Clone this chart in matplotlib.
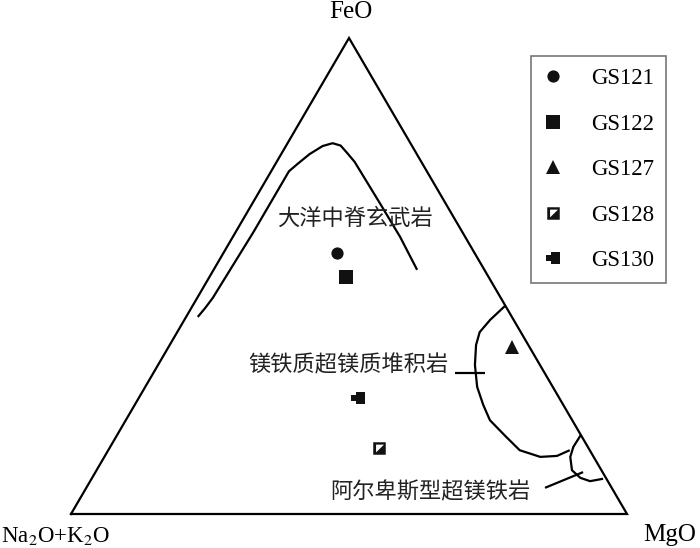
import numpy as np
import matplotlib
matplotlib.use('Agg')
import matplotlib.pyplot as plt
from matplotlib.path import Path
from matplotlib.lines import Line2D

plt.rcParams['font.family'] = ['Liberation Serif', 'DejaVu Serif']
plt.rcParams['mathtext.fontset'] = 'stix'

CJK = ['Noto Sans CJK SC', 'DejaVu Sans']

# sample compositions (wt% normalised): FeO, MgO, Na2O+K2O
SAMPLES = ['GS121', 'GS122', 'GS127', 'GS128', 'GS130']
FEO = [54.8, 49.8, 35.1, 13.9, 24.4]
MGO = [20.4, 24.6, 61.8, 48.5, 39.4]
ALK = [24.8, 25.6, 3.1, 37.6, 36.2]

# field boundaries as (FeO, MgO)
MORB_FEO = [41.4, 43.3, 45.4, 59.2, 72.0, 73.6, 75.6, 77.3, 77.9, 77.4, 75.8, 74.0, 65.3, 58.2, 51.3]
MORB_MGO = [2.1, 2.5, 2.8, 3.2, 3.2, 4.0, 5.1, 6.6, 8.1, 9.8, 11.8, 14.0, 22.9, 30.1, 36.6]

CUM_FEO = [43.7, 40.8, 38.2, 35.5, 31.3, 26.7, 22.9, 19.7, 16.4, 13.4, 12.0, 12.2, 13.4]
CUM_MGO = [56.2, 55.0, 54.4, 55.1, 57.0, 59.7, 62.7, 65.5, 69.9, 74.0, 78.4, 81.3, 83.0]

ALP_FEO = [16.6, 14.1, 12.0, 9.2, 7.6, 6.9, 7.4]
ALP_MGO = [83.4, 83.3, 83.8, 85.5, 87.8, 89.9, 92.0]

# leader lines (FeO, MgO)
LEAD1_FEO = [29.6, 29.6]
LEAD1_MGO = [54.3, 59.7]
LEAD2_FEO = [5.5, 8.8]
LEAD2_MGO = [82.5, 87.7]

FIELD_NAMES = ['大洋中脊玄武岩', '镁铁质超镁质堆积岩', '阿尔卑斯型超镁铁岩']
FIELD_FEO = [62.2, 31.3, 4.6]
FIELD_MGO = [20.0, 34.2, 62.3]


def tern_xy(feo, mgo):
    feo = np.asarray(feo, dtype=float) / 100.0
    mgo = np.asarray(mgo, dtype=float) / 100.0
    return mgo + feo / 2.0, feo


# custom markers
sq_hole = Path(
    [(-1, -1), (1, -1), (1, 1), (-1, 1), (-1, -1),
     (-0.55, 0.62), (0.72, 0.62), (-0.55, -0.62), (-0.55, 0.62)],
    [Path.MOVETO, Path.LINETO, Path.LINETO, Path.LINETO, Path.CLOSEPOLY,
     Path.MOVETO, Path.LINETO, Path.LINETO, Path.CLOSEPOLY])
tab_box = Path(
    [(-1, -0.45), (-0.35, -0.45), (-0.35, -0.85), (1, -0.85), (1, 0.85),
     (-0.35, 0.85), (-0.35, 0.45), (-1, 0.45), (-1, -0.45)],
    [Path.MOVETO] + [Path.LINETO] * 7 + [Path.CLOSEPOLY])

MARKERS = ['o', 's', '^', sq_hole, tab_box]
SIZES = [8.8, 9.4, 10, 9.0, 9.6]

fig = plt.figure(figsize=(7, 5.48), dpi=100)
ax = fig.add_axes([0, 0, 1, 1])
ax.set_xlim(-71 / 556, 629 / 556)
ax.set_ylim(-34 / 476, 514 / 476)
ax.axis('off')

# triangle outline
tx, ty = tern_xy([0, 0, 100, 0], [0, 100, 0, 0])
ax.plot(tx, ty, color='black', lw=1.6, solid_joinstyle='miter')

for fe, mg in [(MORB_FEO, MORB_MGO), (CUM_FEO, CUM_MGO), (ALP_FEO, ALP_MGO),
               (LEAD1_FEO, LEAD1_MGO), (LEAD2_FEO, LEAD2_MGO)]:
    x, y = tern_xy(fe, mg)
    ax.plot(x, y, color='black', lw=1.6, solid_capstyle='butt',
            solid_joinstyle='round')

for name, fe, mg in zip(FIELD_NAMES, FIELD_FEO, FIELD_MGO):
    x, y = tern_xy(fe, mg)
    ax.text(x, y, name, family=CJK, fontsize=16, ha='center', va='center',
            color='#222222')

handles = []
for i, name in enumerate(SAMPLES):
    x, y = tern_xy(FEO[i], MGO[i])
    ax.plot(x, y, linestyle='none', marker=MARKERS[i], markersize=SIZES[i],
            color='#111111', markeredgewidth=0)
    handles.append(Line2D([], [], linestyle='none', marker=MARKERS[i],
                          markersize=SIZES[i], color='#111111',
                          markeredgewidth=0, label=name))

# vertex labels
vx, vy = tern_xy([100, 0, 0], [0, 0, 100])
ax.annotate('FeO', (vx[0], vy[0]), xytext=(1, 19), textcoords='offset points',
            ha='center', va='center', fontsize=18)
ax.annotate(r'Na$_2$O+K$_2$O', (vx[1], vy[1]), xytext=(-11, -16),
            textcoords='offset points', ha='center', va='center', fontsize=16.5)
ax.annotate('MgO', (vx[2], vy[2]), xytext=(31, -15), textcoords='offset points',
            ha='center', va='center', fontsize=18)

leg = ax.legend(handles=handles, loc='upper left',
                bbox_to_anchor=(531 / 700, 1 - 56 / 548),
                bbox_transform=fig.transFigure, borderaxespad=0,
                fontsize=16.5, frameon=True, fancybox=False,
                borderpad=0.52, labelspacing=1.07, handlelength=0.85,
                handletextpad=1.25)
leg.get_frame().set_edgecolor('#555555')
leg.get_frame().set_linewidth(1.2)

fig.savefig('out.png', dpi=100)
